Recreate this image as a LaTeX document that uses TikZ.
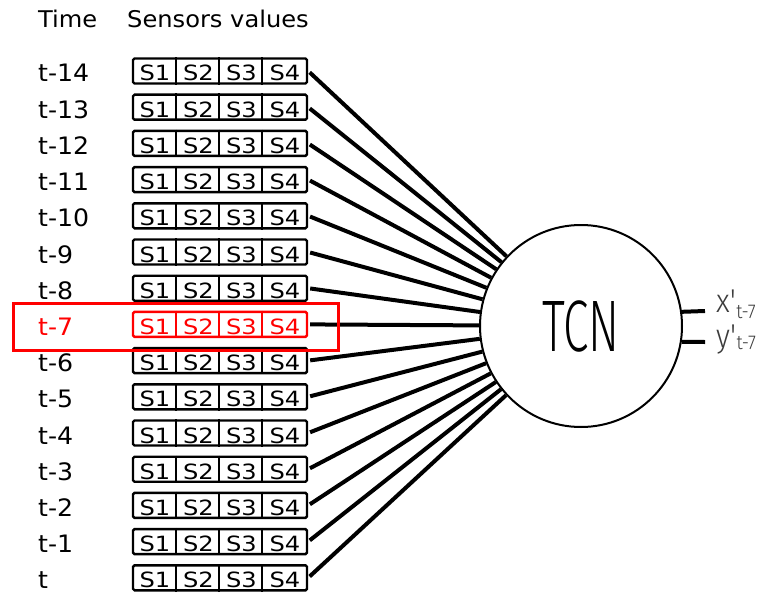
\documentclass[tikz,border=0pt]{standalone}
\usepackage{fontspec}
\setmainfont[FakeStretch=1.05]{DejaVu Sans}
\newfontfamily\sfontx[FakeStretch=1.15]{DejaVu Sans}
\newfontfamily\tcnfont[FakeStretch=0.63]{Fira Sans Light}
\newfontfamily\outfont[FakeStretch=0.9]{Fira Sans Light}
\definecolor{outgray}{HTML}{3C3C3C}
\begin{document}
\begin{tikzpicture}[x=1pt,y=-1pt,
  hdr/.style={font=\fontsize{23}{26}\selectfont, inner sep=0, anchor=base west},
  tlabel/.style={font=\fontsize{24}{26}\selectfont, inner sep=0, anchor=base west},
  slabel/.style={font=\sfontx\fontsize{21}{24}\selectfont, inner sep=0, anchor=base},
  sbox/.style={draw, line width=2.4, rounded corners=1.5, minimum width=174, minimum height=25, inner sep=0},
  divider/.style={line width=1.4},
  conn/.style={line width=4},
  tcnnode/.style={circle, draw, line width=2, minimum size=202, inner sep=0, font=\tcnfont\fontsize{73}{73}\selectfont},
  outlab/.style={font=\outfont\fontsize{33}{33}\selectfont, text=outgray, inner sep=0, anchor=base west},
  sublab/.style={font=\outfont\fontsize{20}{20}\selectfont, text=outgray, inner sep=0, anchor=base west},
  hl/.style={draw=red, line width=3, minimum width=325, minimum height=47, inner sep=0}
]
\useasboundingbox (0,0) rectangle (764,594);

\node[hdr] (htime) at (38,28) {Time};
\node[hdr] (hsens) at (127,28) {Sensors values};

\node[tcnnode] (tcn) at (581,326) {TCN};

\foreach \i in {0,...,14}{
  \pgfmathsetmacro\yc{71+36.2*\i}
  \pgfmathtruncatemacro\k{14-\i}
  \ifnum\i=7 \def\rc{red}\else\def\rc{black}\fi
  \node[tlabel, text=\rc] (lab\i) at (38,\yc+11) {\ifnum\k=0 t\else t-\k\fi};
  \node[sbox, draw=\rc] (box\i) at (220,\yc) {};
  \foreach \d in {44,87,130}{
    \draw[divider, draw=\rc] ([xshift=\d]box\i.north west) -- ([xshift=\d]box\i.south west);
  }
  \foreach \c/\cx in {1/155,2/198.5,3/241.5,4/285}{
    \node[slabel, text=\rc] (s\i-\c) at (\cx,\yc+10) {S\c};
  }
  \draw[conn, shorten <=2] (box\i.east) -- (tcn);
}

\node[hl] (hlbox) at (175.5,326.5) {};

\coordinate (xo) at (705,311);
\coordinate (yo) at (705,342);
\draw[conn] (tcn.8.5) -- (xo);
\draw[conn] (tcn.-9) -- (yo);
\node[outlab] (xlab) at (716,312) {x'};
\node[sublab] (xsub) at (xlab.base east) [yshift=-6pt] {t-7};
\node[outlab] (ylab) at (716,347) {y'};
\node[sublab] (ysub) at (ylab.base east) [yshift=-2pt] {t-7};
\end{tikzpicture}
\end{document}
